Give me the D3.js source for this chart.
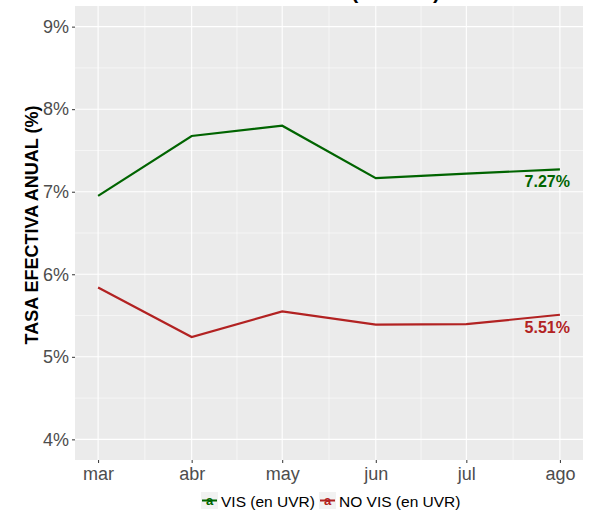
<!DOCTYPE html>
<html>
<meta charset="UTF-8">
<style>
body { margin: 0; background: #fff; }
svg text { font-family: "Liberation Sans", Arial, sans-serif; }
.grid-major { stroke: #fff; stroke-width: 1.1px; }
.grid-minor { stroke: #fff; stroke-width: 0.55px; }
.axis path { display: none; }
.axis line { stroke: #333; }
.axis text { fill: #4d4d4d; font-size: 18px; }
</style>
<svg width="601" height="512"></svg>
<script src="https://d3js.org/d3.v7.min.js"></script>
<script>
//	data
var months = ["mar", "abr", "may", "jun", "jul", "ago"];
var dates = [new Date(2017, 2, 1), new Date(2017, 3, 1), new Date(2017, 4, 1),
             new Date(2017, 5, 1), new Date(2017, 6, 1), new Date(2017, 7, 1)];
var visValues = [6.95, 7.675, 7.80, 7.165, 7.22, 7.27];
var noVisValues = [5.84, 5.24, 5.55, 5.39, 5.395, 5.51];
var seriesNames = ["VIS (en UVR)", "NO VIS (en UVR)"];
var seriesColors = ["#006400", "#B22222"];
var yTicks = [4, 5, 6, 7, 8, 9];

var series = [
	{ name: seriesNames[0], color: seriesColors[0], values: visValues },
	{ name: seriesNames[1], color: seriesColors[1], values: noVisValues }
];

//	svg and panel sizing
var svg = d3.select("svg");
var panel = { left: 75, right: 583, top: 6, bottom: 460 };

//	scales (ggplot-like 5% expansion)
var t0 = dates[0].getTime(), t1 = dates[dates.length - 1].getTime();
var pad = (t1 - t0) * 0.05;
var x = d3.scaleTime()
	.domain([new Date(t0 - pad), new Date(t1 + pad)])
	.range([panel.left, panel.right]);

var y = d3.scaleLinear()
	.domain([3.75, 9.25])
	.range([panel.bottom, panel.top]);

//	title (cut off at the top, as in the original)
svg.append("text")
	.attr("x", 292)
	.attr("y", -1)
	.attr("text-anchor", "middle")
	.style("font-size", "21px")
	.style("font-weight", "bold")
	.text("TASAS DE INTERÉS (en UVR)");

//	panel background
svg.append("rect")
	.attr("x", panel.left)
	.attr("y", panel.top)
	.attr("width", panel.right - panel.left)
	.attr("height", panel.bottom - panel.top)
	.attr("fill", "#EBEBEB");

//	minor grid
var xMinor = d3.range(dates.length - 1).map(function(i) {
	return new Date((dates[i].getTime() + dates[i + 1].getTime()) / 2);
});
var yMinor = d3.range(yTicks.length - 1).map(function(i) { return yTicks[i] + 0.5; });

var grid = svg.append("g");
grid.selectAll(".xm").data(xMinor).enter().append("line")
	.attr("class", "grid-minor")
	.attr("x1", function(d) { return x(d); }).attr("x2", function(d) { return x(d); })
	.attr("y1", panel.top).attr("y2", panel.bottom);
grid.selectAll(".ym").data(yMinor).enter().append("line")
	.attr("class", "grid-minor")
	.attr("y1", function(d) { return y(d); }).attr("y2", function(d) { return y(d); })
	.attr("x1", panel.left).attr("x2", panel.right);

//	major grid
grid.selectAll(".xM").data(dates).enter().append("line")
	.attr("class", "grid-major")
	.attr("x1", function(d) { return x(d); }).attr("x2", function(d) { return x(d); })
	.attr("y1", panel.top).attr("y2", panel.bottom);
grid.selectAll(".yM").data(yTicks).enter().append("line")
	.attr("class", "grid-major")
	.attr("y1", function(d) { return y(d); }).attr("y2", function(d) { return y(d); })
	.attr("x1", panel.left).attr("x2", panel.right);

//	axes
svg.append("g")
	.attr("class", "axis")
	.attr("transform", "translate(0," + panel.bottom + ")")
	.call(d3.axisBottom(x)
		.tickValues(dates)
		.tickSize(3)
		.tickPadding(4)
		.tickFormat(function(d, i) { return months[i]; }));

svg.append("g")
	.attr("class", "axis")
	.attr("transform", "translate(" + panel.left + ",0)")
	.call(d3.axisLeft(y)
		.tickValues(yTicks)
		.tickSize(3)
		.tickPadding(3)
		.tickFormat(function(d) { return d + "%"; }));

//	y axis title
svg.append("text")
	.attr("transform", "translate(38,225) rotate(-90)")
	.attr("text-anchor", "middle")
	.style("font-size", "18px")
	.style("font-weight", "bold")
	.attr("fill", "#000")
	.text("TASA EFECTIVA ANUAL (%)");

//	lines
var line = d3.line()
	.x(function(d, i) { return x(dates[i]); })
	.y(function(d) { return y(d); });

svg.append("g").selectAll("path").data(series).enter().append("path")
	.attr("d", function(d) { return line(d.values); })
	.attr("fill", "none")
	.attr("stroke", function(d) { return d.color; })
	.attr("stroke-width", 2.2);

//	end labels
var last = dates.length - 1;
svg.append("g").selectAll("text").data(series).enter().append("text")
	.attr("x", x(dates[last]) + 10)
	.attr("y", function(d) { return y(d.values[last]) + 18; })
	.attr("text-anchor", "end")
	.attr("fill", function(d) { return d.color; })
	.style("font-size", "16px")
	.style("font-weight", "bold")
	.text(function(d) { return d.values[last].toFixed(2) + "%"; });

//	legend
var legend = svg.append("g").attr("transform", "translate(201,492)");
var legendX = [0, 118];
var item = legend.selectAll("g").data(series).enter().append("g")
	.attr("transform", function(d, i) { return "translate(" + legendX[i] + ",0)"; });
item.append("rect")
	.attr("width", 17).attr("height", 17)
	.attr("fill", "#F2F2F2");
item.append("line")
	.attr("x1", 1).attr("x2", 16)
	.attr("y1", 8.5).attr("y2", 8.5)
	.attr("stroke", function(d) { return d.color; })
	.attr("stroke-width", 2);
item.append("text")
	.attr("x", 8.5).attr("y", 13)
	.attr("text-anchor", "middle")
	.attr("fill", function(d) { return d.color; })
	.style("font-size", "13px")
	.style("font-weight", "bold")
	.text("a");
item.append("text")
	.attr("x", 20).attr("y", 15)
	.attr("fill", "#000")
	.style("font-size", "15.5px")
	.text(function(d) { return d.name; });
</script>
</html>
